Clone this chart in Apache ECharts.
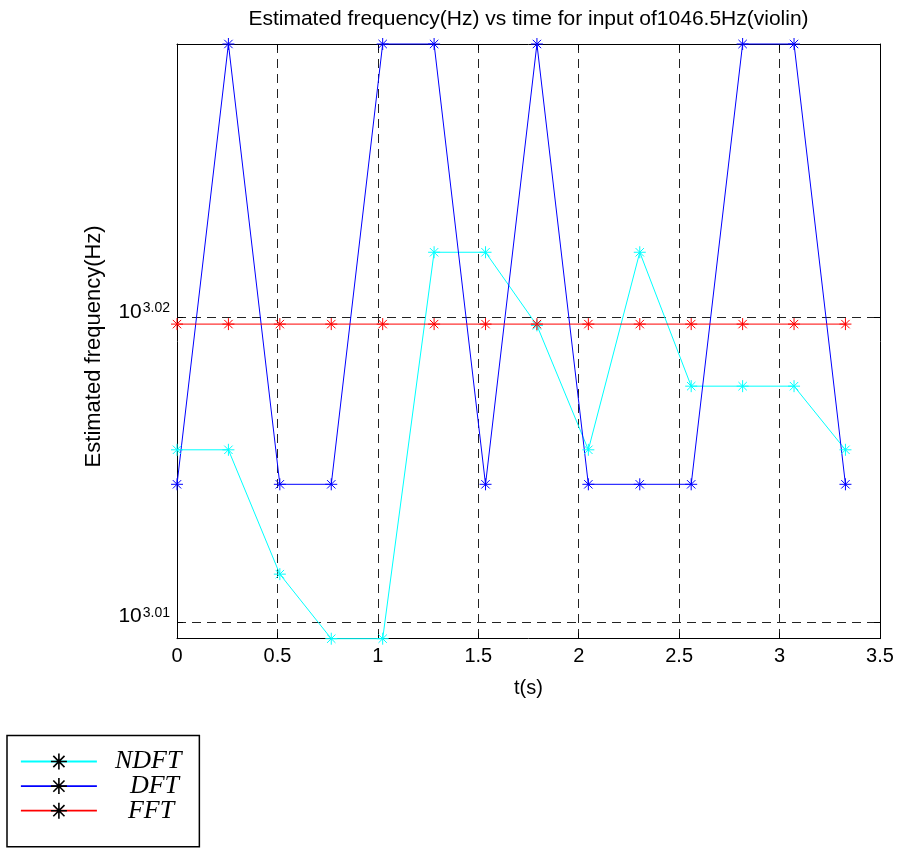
<!DOCTYPE html>
<html>
<head>
<meta charset="utf-8">
<script src="https://cdn.jsdelivr.net/npm/echarts@6/dist/echarts.min.js"></script>
<style>
  html, body { margin: 0; padding: 0; background: #fff; }
  #chart { width: 897px; height: 848px; }
</style>
</head>
<body>
<div id="chart"></div>
<script>
// Frame start times (s)
const times = [0, 0.256, 0.512, 0.768, 1.024, 1.28, 1.536, 1.792, 2.048, 2.304, 2.56, 2.816, 3.072, 3.328];

// Estimated frequency (Hz) per frame for each method
const ndftHz = [1036.7, 1036.7, 1027.0, 1022.0, 1022.0, 1052.3, 1052.3, 1046.5, 1036.7, 1052.3, 1041.7, 1041.7, 1041.7, 1036.7];
const dftHz  = [1034.0, 1069.0, 1034.0, 1034.0, 1069.0, 1069.0, 1034.0, 1069.0, 1034.0, 1034.0, 1034.0, 1069.0, 1069.0, 1034.0];
const fftHz  = [1046.6, 1046.6, 1046.6, 1046.6, 1046.6, 1046.6, 1046.6, 1046.6, 1046.6, 1046.6, 1046.6, 1046.6, 1046.6, 1046.6];

const seriesNames = ['NDFT', 'DFT', 'FFT'];
const seriesColors = ['#00ffff', '#0000ff', '#ff0000'];

// Frequency axis limits (Hz) and decade-exponent ticks
const freqMin = 1022.0;
const freqMax = 1069.0;
const expTicks = [3.01, 3.02];

// The frequency axis is logarithmic: values are plotted as log10(Hz)
const toLog = v => Math.log10(v);
const pairs = arr => times.map((t, i) => [t, toLog(arr[i])]);

// Eight-armed asterisk marker
const starPath = 'path://M0,5L10,5M5,0L5,10M1.5,1.5L8.5,8.5M8.5,1.5L1.5,8.5';

const font = 'Liberation Sans, Arial, Helvetica, sans-serif';

function makeSeries(name, data, color) {
  return {
    name: name,
    type: 'line',
    data: pairs(data),
    clip: false,
    symbol: starPath,
    symbolSize: 12,
    lineStyle: { color: color, width: 1 },
    itemStyle: { color: 'transparent', borderColor: color, borderWidth: 1 },
    emphasis: { disabled: true },
    animation: false
  };
}

const legendOffsets = { NDFT: 13, DFT: 28, FFT: 26 };
const legendRich = {};
seriesNames.forEach(n => {
  legendRich[n] = {
    fontFamily: 'Liberation Serif, Times New Roman, serif',
    fontStyle: 'italic',
    fontSize: 26,
    lineHeight: 23,
    color: '#000',
    padding: [0, 0, 0, legendOffsets[n]]
  };
});

const gridBox = { left: 177, top: 44, width: 703, height: 594.7 };

const commonTick = { show: true, inside: true, length: 6, lineStyle: { color: '#000', width: 1 } };

const option = {
  animation: false,
  backgroundColor: '#fff',
  title: {
    text: 'Estimated frequency(Hz) vs time for input of1046.5Hz(violin)',
    left: gridBox.left + gridBox.width / 2,
    top: 9,
    padding: 0,
    textAlign: 'center',
    textStyle: { fontFamily: font, fontSize: 21, fontWeight: 'normal', color: '#000' }
  },
  grid: gridBox,
  legend: {
    orient: 'vertical',
    left: 7,
    top: 735.5,
    height: 89,
    padding: [13, 18, 23, 13],
    itemWidth: 76,
    itemHeight: 20,
    itemGap: -1.4,
    borderColor: '#000',
    borderWidth: 1.5,
    backgroundColor: '#fff',
    selectedMode: false,
    data: seriesNames,
    itemStyle: { color: 'transparent', borderColor: '#000', borderWidth: 1.6 },
    lineStyle: { width: 1.8 },
    formatter: n => '{' + n + '|' + n + '}',
    textStyle: { lineHeight: 23, rich: legendRich }
  },
  xAxis: [{
    type: 'value',
    position: 'bottom',
    min: 0,
    max: 3.5,
    interval: 0.5,
    name: 't(s)',
    nameLocation: 'middle',
    nameGap: 40,
    nameTextStyle: { fontFamily: font, fontSize: 20, color: '#000' },
    axisLine: { show: true, onZero: false, lineStyle: { color: '#000', width: 1 } },
    axisTick: commonTick,
    axisLabel: { margin: 8, fontFamily: font, fontSize: 20, color: '#000' },
    splitLine: {
      show: true, showMinLine: false, showMaxLine: false,
      lineStyle: { color: '#222', type: [9, 6], width: 1 }
    }
  }, {
    type: 'value',
    position: 'top',
    min: 0,
    max: 3.5,
    interval: 0.5,
    axisLine: { show: true, onZero: false, lineStyle: { color: '#000', width: 1 } },
    axisTick: commonTick,
    axisLabel: { show: false },
    splitLine: { show: false }
  }],
  yAxis: [{
    type: 'value',
    position: 'left',
    min: toLog(freqMin),
    max: toLog(freqMax),
    minInterval: 0.01,
    maxInterval: 0.01,
    name: 'Estimated frequency(Hz)',
    nameLocation: 'middle',
    nameGap: 72,
    nameTextStyle: { fontFamily: font, fontSize: 22, color: '#000', padding: [0, 10, 0, 0] },
    axisLine: { show: true, onZero: false, lineStyle: { color: '#000', width: 1 } },
    axisTick: commonTick,
    axisLabel: {
      margin: 7,
      showMinLabel: false,
      showMaxLabel: false,
      padding: [0, 0, 11, 0],
      formatter: v => {
        const e = expTicks.find(x => Math.abs(x - v) < 1e-6);
        return e === undefined ? '' : '{b|10}{s|' + e.toFixed(2) + '}';
      },
      rich: {
        b: { fontFamily: font, fontSize: 21, lineHeight: 21, color: '#000', verticalAlign: 'bottom' },
        s: { fontFamily: font, fontSize: 14, lineHeight: 14, color: '#000', verticalAlign: 'top', padding: [0, 0, 17, 1] }
      }
    },
    splitLine: {
      show: true, showMinLine: false, showMaxLine: false,
      lineStyle: { color: '#222', type: [9, 6], width: 1 }
    }
  }, {
    type: 'value',
    position: 'right',
    min: toLog(freqMin),
    max: toLog(freqMax),
    minInterval: 0.01,
    maxInterval: 0.01,
    axisLine: { show: true, onZero: false, lineStyle: { color: '#000', width: 1 } },
    axisTick: commonTick,
    axisLabel: { show: false },
    splitLine: { show: false }
  }],
  series: [
    makeSeries(seriesNames[0], ndftHz, seriesColors[0]),
    makeSeries(seriesNames[1], dftHz, seriesColors[1]),
    makeSeries(seriesNames[2], fftHz, seriesColors[2])
  ]
};

const chart = echarts.init(document.getElementById('chart'), null, { renderer: 'canvas' });
chart.setOption(option);
</script>
</body>
</html>
